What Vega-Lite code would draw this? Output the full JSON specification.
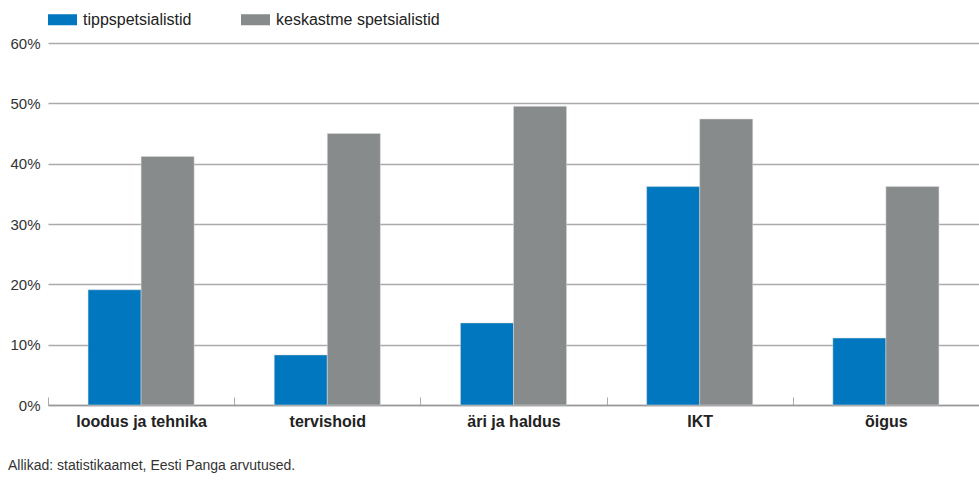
{
  "$schema": "https://vega.github.io/schema/vega-lite/v6.json",
  "width": 931,
  "height": 362,
  "autosize": {"type": "none"},
  "padding": {"left": 48, "top": 43, "right": 0, "bottom": 80},
  "background": "white",
  "config": {
    "font": "Liberation Sans",
    "view": {"stroke": null}
  },
  "title": {
    "text": "Allikad: statistikaamet, Eesti Panga arvutused.",
    "orient": "bottom",
    "anchor": "start",
    "frame": "group",
    "dx": -40,
    "offset": 30,
    "fontSize": 14,
    "fontWeight": "normal",
    "color": "#333333",
    "font": "Liberation Sans"
  },
  "data": {
    "values": [
      {"valdkond": "loodus ja tehnika", "grupp": "tippspetsialistid", "osa": 19.1},
      {"valdkond": "loodus ja tehnika", "grupp": "keskastme spetsialistid", "osa": 41.2},
      {"valdkond": "tervishoid", "grupp": "tippspetsialistid", "osa": 8.3},
      {"valdkond": "tervishoid", "grupp": "keskastme spetsialistid", "osa": 45.0},
      {"valdkond": "äri ja haldus", "grupp": "tippspetsialistid", "osa": 13.6},
      {"valdkond": "äri ja haldus", "grupp": "keskastme spetsialistid", "osa": 49.5},
      {"valdkond": "IKT", "grupp": "tippspetsialistid", "osa": 36.2},
      {"valdkond": "IKT", "grupp": "keskastme spetsialistid", "osa": 47.4},
      {"valdkond": "õigus", "grupp": "tippspetsialistid", "osa": 11.1},
      {"valdkond": "õigus", "grupp": "keskastme spetsialistid", "osa": 36.2}
    ]
  },
  "mark": {"type": "bar", "stroke": "#dddddd", "strokeWidth": 0.5},
  "encoding": {
    "x": {
      "field": "valdkond",
      "type": "nominal",
      "sort": ["loodus ja tehnika", "tervishoid", "äri ja haldus", "IKT", "õigus"],
      "scale": {"paddingInner": 0, "paddingOuter": 0},
      "axis": {
        "title": null,
        "labelAngle": 0,
        "labelFont": "Liberation Sans",
        "labelFontSize": 16,
        "labelFontWeight": "bold",
        "labelColor": "#222222",
        "labelPadding": 16,
        "tickBand": "extent",
        "tickSize": -8,
        "tickColor": "#aaaaaa",
        "domainColor": "#999999",
        "domainWidth": 1.5,
        "grid": false
      }
    },
    "xOffset": {
      "field": "grupp",
      "type": "nominal",
      "sort": ["tippspetsialistid", "keskastme spetsialistid"],
      "scale": {"paddingInner": 0, "paddingOuter": 0.755}
    },
    "y": {
      "field": "osa",
      "type": "quantitative",
      "scale": {"domain": [0, 60]},
      "axis": {
        "title": null,
        "values": [0, 10, 20, 30, 40, 50, 60],
        "labelExpr": "datum.value + '%'",
        "labelFont": "Liberation Sans",
        "labelFontSize": 15,
        "labelColor": "#333333",
        "labelPadding": 8,
        "domain": false,
        "ticks": false,
        "gridColor": "#aaaaaa",
        "gridWidth": 1.5
      }
    },
    "color": {
      "field": "grupp",
      "type": "nominal",
      "sort": ["tippspetsialistid", "keskastme spetsialistid"],
      "scale": {"domain": ["tippspetsialistid", "keskastme spetsialistid"], "range": ["#0077be", "#878b8c"]},
      "legend": {
        "title": null,
        "orient": "none",
        "legendX": 0,
        "legendY": -38,
        "direction": "horizontal",
        "symbolType": "M-1,-0.38H1V0.38H-1Z",
        "symbolSize": 841,
        "symbolStrokeWidth": 0,
        "symbolOpacity": 1,
        "labelFont": "Liberation Sans",
        "labelFontSize": 16,
        "labelColor": "#222222",
        "labelOffset": 6,
        "labelLimit": 400,
        "columnPadding": 49
      }
    }
  }
}
